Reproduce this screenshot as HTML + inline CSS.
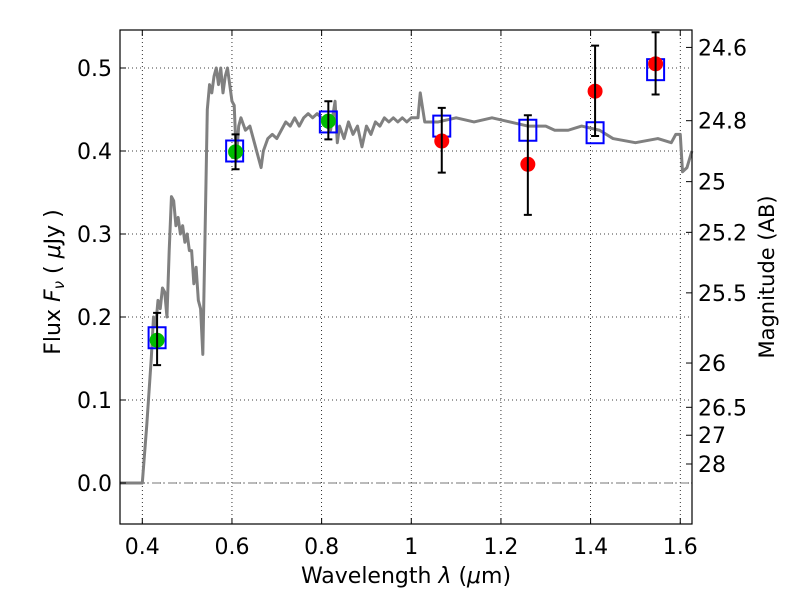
<!DOCTYPE html>
<html><head><meta charset="utf-8"><style>
body{margin:0;background:#fff}
svg text{font-family:"DejaVu Sans","Liberation Sans",sans-serif;fill:#000}
</style></head><body>
<svg id="chart" width="800" height="600">
<rect width="800" height="600" fill="#fff"/>
<g id="grid"></g>
<g id="plot"></g>
<rect x="120" y="30" width="572" height="494" fill="none" stroke="#000" stroke-width="1.2"/>
<g id="ticks"></g>
<text x="406" y="583" font-size="22" text-anchor="middle">Wavelength  <tspan font-style="italic">λ</tspan> (<tspan font-style="italic">μ</tspan>m)</text>
<text transform="translate(60,282) rotate(-90)" font-size="22" text-anchor="middle">Flux  <tspan font-style="italic">F</tspan><tspan font-style="italic" font-size="15" dy="4">ν</tspan><tspan dy="-4">  ( </tspan><tspan font-style="italic">μ</tspan>Jy )</text>
<text transform="translate(774,277) rotate(-90)" font-size="21" text-anchor="middle">Magnitude (AB)</text>
</svg>
<script>
const specLam=[0.35,0.395,0.40,0.41,0.42,0.425,0.43,0.435,0.44,0.445,0.45,0.455,0.46,0.465,0.47,0.475,0.48,0.485,0.49,0.495,0.50,0.505,0.51,0.515,0.52,0.525,0.53,0.535,0.54,0.545,0.55,0.555,0.56,0.565,0.57,0.575,0.58,0.585,0.59,0.595,0.60,0.605,0.61,0.615,0.62,0.63,0.64,0.65,0.66,0.665,0.67,0.68,0.69,0.70,0.71,0.72,0.73,0.74,0.75,0.76,0.77,0.78,0.79,0.80,0.81,0.82,0.83,0.835,0.84,0.85,0.86,0.87,0.88,0.89,0.90,0.91,0.92,0.93,0.94,0.95,0.96,0.97,0.98,0.99,1.0,1.015,1.02,1.03,1.06,1.1,1.14,1.18,1.22,1.26,1.3,1.32,1.35,1.38,1.42,1.45,1.5,1.55,1.58,1.59,1.60,1.605,1.615,1.626];
const specFlux=[0,0,0,0.07,0.15,0.20,0.19,0.22,0.21,0.235,0.23,0.20,0.28,0.345,0.34,0.31,0.32,0.30,0.31,0.29,0.30,0.28,0.28,0.24,0.26,0.22,0.21,0.155,0.30,0.45,0.48,0.47,0.49,0.50,0.48,0.50,0.47,0.49,0.50,0.48,0.46,0.455,0.39,0.43,0.44,0.425,0.43,0.41,0.39,0.38,0.40,0.415,0.42,0.415,0.425,0.435,0.43,0.44,0.43,0.44,0.445,0.44,0.445,0.44,0.43,0.425,0.46,0.41,0.43,0.415,0.435,0.42,0.43,0.405,0.43,0.42,0.435,0.43,0.44,0.435,0.44,0.435,0.44,0.435,0.44,0.44,0.47,0.435,0.435,0.44,0.435,0.44,0.435,0.43,0.43,0.425,0.425,0.43,0.425,0.415,0.41,0.415,0.41,0.42,0.42,0.375,0.38,0.40];
const modelLam=[0.433,0.606,0.815,1.068,1.26,1.41,1.545];
const modelFlux=[0.175,0.40,0.435,0.43,0.425,0.422,0.498];
const greenLam=[0.433,0.608,0.815];
const greenFlux=[0.172,0.399,0.436];
const greenLo=[0.142,0.378,0.414];
const greenHi=[0.205,0.42,0.46];
const redLam=[1.068,1.26,1.41,1.545];
const redFlux=[0.412,0.384,0.472,0.505];
const redLo=[0.374,0.323,0.418,0.468];
const redHi=[0.452,0.443,0.527,0.543];
const xTicks=[0.4,0.6,0.8,1,1.2,1.4,1.6];
const yTicks=[0.0,0.1,0.2,0.3,0.4,0.5];
const magTicks=["24.6","24.8","25","25.2","25.5","26","26.5","27","28"];

const X=v=>142.3+(v-0.4)*448.3;
const Y=v=>483-v*830;
const NS="http://www.w3.org/2000/svg";
function mk(parent,tag,attrs){const e=document.createElementNS(NS,tag);for(const k in attrs)e.setAttribute(k,attrs[k]);document.getElementById(parent).appendChild(e);return e;}

xTicks.forEach(t=>{
  let g=mk('grid','line',{x1:X(t),x2:X(t),y1:30,y2:524,stroke:'#000','stroke-width':0.8,'stroke-dasharray':'1,3'});
  
  
  mk('ticks','line',{x1:X(t),x2:X(t),y1:524,y2:518,stroke:'#000'});
  mk('ticks','line',{x1:X(t),x2:X(t),y1:30,y2:36,stroke:'#000'});
  let tx=mk('ticks','text',{x:X(t),y:554,'font-size':22,'text-anchor':'middle'});
  tx.textContent=String(t);
  
  
});
yTicks.forEach(t=>{
  let g=mk('grid','line',{x1:120,x2:692,y1:Y(t),y2:Y(t),stroke:'#000','stroke-width':0.8,'stroke-dasharray':'1,3'});
  
  
  mk('ticks','line',{x1:120,x2:126,y1:Y(t),y2:Y(t),stroke:'#000'});
  let tx=mk('ticks','text',{x:112,y:Y(t)+8,'font-size':22,'text-anchor':'end'});
  tx.textContent=t.toFixed(1);
  
  
});
magTicks.forEach(m=>{
  const f=Math.pow(10,(23.9-parseFloat(m))/2.5);
  mk('ticks','line',{x1:692,x2:686,y1:Y(f),y2:Y(f),stroke:'#000'});
  let tx=mk('ticks','text',{x:698,y:Y(f)+8,'font-size':22});
  tx.textContent=m;
  
  
});
let zl=mk('plot','line',{x1:120,x2:692,y1:Y(0),y2:Y(0),stroke:'#777','stroke-width':1,'stroke-dasharray':'8,3,2,3'});


let sp=mk('plot','polyline',{points:specLam.map((l,i)=>X(l)+','+Y(specFlux[i])).join(' '),fill:'none',stroke:'#808080','stroke-width':3,'stroke-linejoin':'round'});


modelLam.forEach((l,i)=>{
  let r=mk('plot','rect',{x:X(l)-8.5,y:Y(modelFlux[i])-10.5,width:17,height:21,fill:'none',stroke:'#0000ff','stroke-width':2});
  
  
});
function pts(lam,fl,lo,hi,col,name){
  lam.forEach((l,i)=>{
    const x=X(l);
    let c=mk('plot','circle',{cx:x,cy:Y(fl[i]),r:7.5,fill:col});
    
    
    let e=mk('plot','path',{d:`M${x},${Y(lo[i])}V${Y(hi[i])}M${x-4},${Y(lo[i])}h8M${x-4},${Y(hi[i])}h8`,stroke:'#000','stroke-width':2,fill:'none'});
    
    
  });
}
pts(greenLam,greenFlux,greenLo,greenHi,'#00bb00','green-data-point');
pts(redLam,redFlux,redLo,redHi,'#ff0000','red-data-point');
</script>
</body></html>
